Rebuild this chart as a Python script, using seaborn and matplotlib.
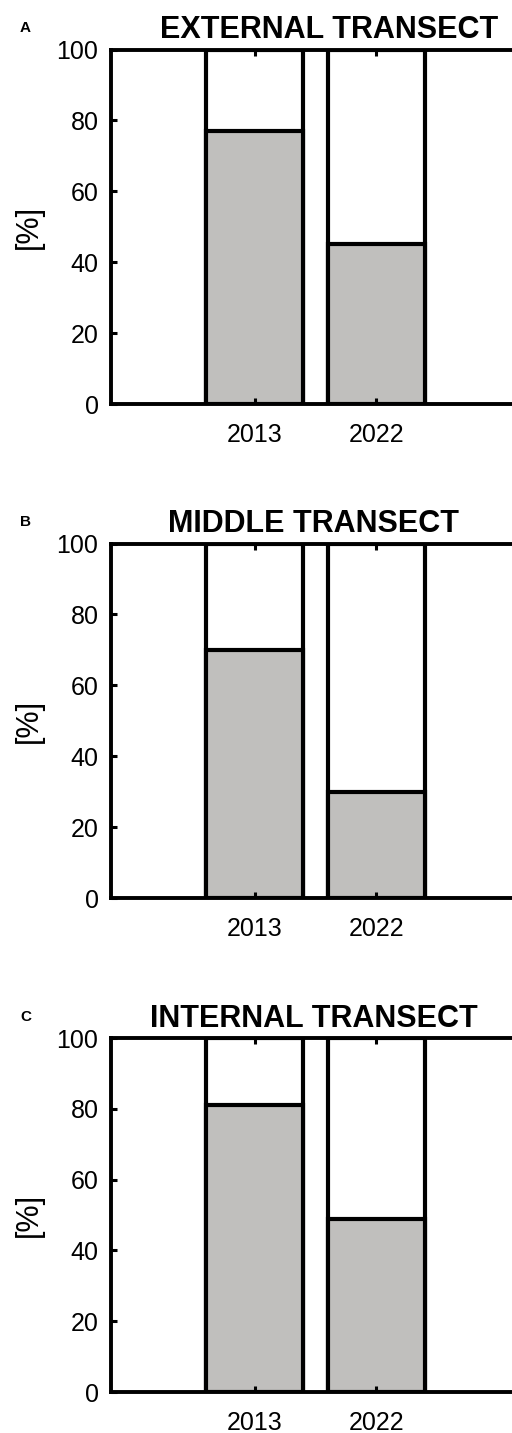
import matplotlib
matplotlib.use("Agg")
import matplotlib.pyplot as plt
import seaborn as sns
import pandas as pd

years = ["2013", "2022"]
panel_letters = ["A", "B", "C"]
panel_titles = ["EXTERNAL TRANSECT", "MIDDLE TRANSECT", "INTERNAL TRANSECT"]
external_pct = [77, 45]
middle_pct = [70, 30]
internal_pct = [81, 49]
y_ticks = [0, 20, 40, 60, 80, 100]
y_label = "[%]"

sns.set_theme(style="ticks")
plt.rcParams["font.family"] = ["Liberation Sans", "DejaVu Sans"]
plt.rcParams["text.color"] = "black"
plt.rcParams["axes.labelcolor"] = "black"
plt.rcParams["axes.axisbelow"] = False

W, H = 512, 1433
fig = plt.figure(figsize=(W / 100, H / 100), dpi=100)

# pixel geometry of each panel: (axes top, axes bottom, title centre x)
panel_px = [(49.5, 404, 329), (543.5, 898, 314), (1038, 1392, 314)]
ax_left, ax_width = 111, 409

fill_gray = "#c0bfbd"
series = [external_pct, middle_pct, internal_pct]

for letter, title, vals, (top, bot, tx) in zip(panel_letters, panel_titles, series, panel_px):
    ax = fig.add_axes([ax_left / W, 1 - bot / H, ax_width / W, (bot - top) / H])
    df = pd.DataFrame({"year": years, "pct": vals, "total": [100] * len(years)})
    sns.barplot(data=df, x="year", y="total", order=years, color="white",
                saturation=1, edgecolor="black", linewidth=3, width=0.8,
                errorbar=None, ax=ax)
    sns.barplot(data=df, x="year", y="pct", order=years, color=fill_gray,
                saturation=1, edgecolor="black", linewidth=3, width=0.8,
                errorbar=None, ax=ax)
    ax.set_xlim(-1.18, 2.18)
    ax.set_ylim(0, 100)
    ax.set_yticks(y_ticks)
    ax.set_xlabel("")
    ax.set_ylabel("")
    for s in ax.spines.values():
        s.set_linewidth(2.8)
        s.set_color("black")
        s.set_visible(True)
    ax.tick_params(axis="both", which="major", direction="in", length=4, width=2.2,
                   labelsize=18, colors="black", labelcolor="black",
                   top=True, right=True, bottom=True, left=True)
    ax.tick_params(axis="y", pad=9)
    ax.tick_params(axis="x", pad=14)
    ax.set_facecolor("white")

    fig.text(29 / W, 1 - (top + bot) / 2 / H, y_label, rotation=90,
             ha="center", va="center", fontsize=22)
    fig.text(tx / W, 1 - (top - 11) / H, title, ha="center", va="baseline",
             fontsize=22, fontweight="bold")
    fig.text(20 / W, 1 - (top - 17) / H, letter, ha="left", va="baseline",
             fontsize=11, fontweight="bold")

fig.savefig("out.png", dpi=100, facecolor="white")
